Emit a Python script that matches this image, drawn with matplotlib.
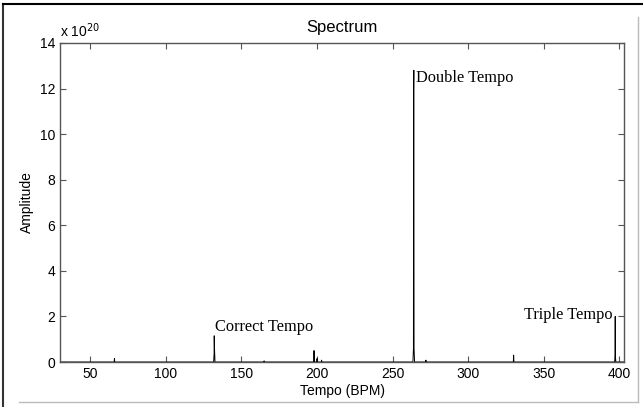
import matplotlib
matplotlib.use("Agg")
import matplotlib.pyplot as plt
from matplotlib.lines import Line2D

# Spectrum samples (tempo in BPM, amplitude in units of 1e20)
tempo = [30, 65.8, 66, 66.2, 131.6, 131.9, 132.0, 132.2, 132.5, 164.8, 165, 165.2,
         197.8, 198.0, 198.2, 199.8, 200, 200.2, 202.8, 203, 203.2,
         263.4, 263.75, 263.85, 264.0, 264.15, 264.5, 271.8, 272, 272.2,
         329.8, 330, 330.2, 396.8, 397.1, 397.2, 397.3, 397.6, 403]
amplitude = [0, 0, 0.15, 0, 0, 0.35, 1.15, 0.55, 0, 0, 0.05, 0,
             0, 0.5, 0, 0, 0.15, 0, 0, 0.08, 0,
             0, 0.6, 11.9, 12.8, 0.6, 0, 0, 0.08, 0,
             0, 0.3, 0, 0, 0.3, 2.0, 0.25, 0, 0]

xticks = [50, 100, 150, 200, 250, 300, 350, 400]
yticks = [0, 2, 4, 6, 8, 10, 12, 14]

plt.rcParams['font.family'] = ['Liberation Sans', 'DejaVu Sans']

fig = plt.figure(figsize=(6.43, 4.07), dpi=100)
ax = fig.add_axes([60 / 643, 1 - 362 / 407, 564 / 643, 319 / 407])

ax.plot(tempo, amplitude, color='black', lw=0.7)

ax.set_xlim(30, 403)
ax.set_ylim(0, 14)
ax.set_xticks(xticks)
ax.set_yticks(yticks)
ax.tick_params(direction='in', top=True, right=True, labelsize=10,
               color='#555555', length=4)
for s in ax.spines.values():
    s.set_color('#555555')
    s.set_linewidth(1.0)

ax.set_title('Spectrum', fontsize=12, pad=8)
ax.set_xlabel('Tempo (BPM)', fontsize=10, labelpad=2)
ax.set_ylabel('Amplitude', fontsize=10, labelpad=4)
ax.text(0.0, 1.01, r'x 10$^{20}$', transform=ax.transAxes, fontsize=10,
        ha='left', va='bottom')

serif = ['Liberation Serif', 'DejaVu Serif']
ax.text(265.5, 12.3, 'Double Tempo', family=serif, fontsize=11.8, ha='left', va='baseline')
ax.text(132.5, 1.35, 'Correct Tempo', family=serif, fontsize=11.8, ha='left', va='baseline')
ax.text(395.5, 1.9, 'Triple Tempo', family=serif, fontsize=11.8, ha='right', va='baseline')

# screenshot frame around the figure
fig.add_artist(Line2D([3 / 643, 3 / 643], [1 - 4 / 407, 0], color='#333333', lw=1.5))
fig.add_artist(Line2D([3 / 643, 1], [1 - 4 / 407, 1 - 4 / 407], color='black', lw=1.5))
fig.add_artist(Line2D([638 / 643, 638 / 643], [1 - 17 / 407, 1 - 402 / 407], color='#bbbbbb', lw=1))
fig.add_artist(Line2D([19 / 643, 638 / 643], [1 - 402 / 407, 1 - 402 / 407], color='#bbbbbb', lw=1))

fig.savefig('out.png', dpi=100)
